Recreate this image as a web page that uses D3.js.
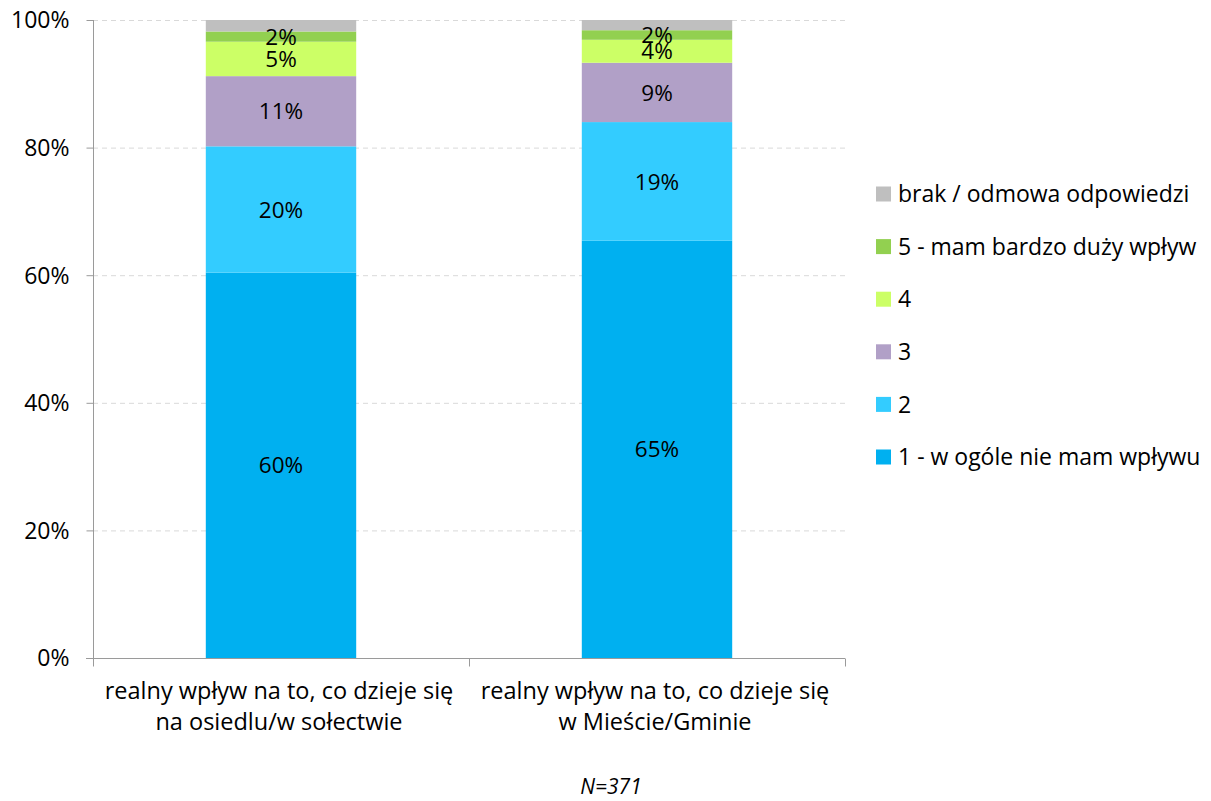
<!DOCTYPE html>
<html><head><meta charset="utf-8">
<script src="https://cdn.jsdelivr.net/npm/d3@7"></script>
<style>body{margin:0;background:#fff}svg{display:block}</style>
</head><body>
<svg id="chart" width="1211" height="801"></svg>
<script>
const categories = [
  ["realny wpływ na to, co dzieje się", "na osiedlu/w sołectwie"],
  ["realny wpływ na to, co dzieje się", "w Mieście/Gminie"]
];
const seriesNames = ["1 - w ogóle nie mam wpływu", "2", "3", "4", "5 - mam bardzo duży wpływ", "brak / odmowa odpowiedzi"];
const seriesColors = ["#00B0F0", "#33CCFF", "#B1A0C7", "#CCFF66", "#92D050", "#BFBFBF"];
const labelled = [true, true, true, true, true, false];
const s1 = [60.4, 65.4];
const s2 = [19.8, 18.6];
const s3 = [11.0, 9.3];
const s4 = [5.4, 3.6];
const s5 = [1.6, 1.5];
const sBrak = [1.8, 1.6];
const yTicks = [0, 20, 40, 60, 80, 100];
const note = "N=371";

(function(){
const font = "'Open Sans', sans-serif";
const svg = d3.select("#chart");
const pl = 93, pr = 845, pt = 20, pb = 658;

const seriesVals = [s1, s2, s3, s4, s5, sBrak];
const rows = categories.map((c, i) => {
  const r = {cat: i};
  seriesNames.forEach((n, k) => r[n] = seriesVals[k][i]);
  return r;
});
const stacked = d3.stack().keys(seriesNames)(rows);

const x = d3.scaleBand().domain(categories.map((c, i) => i)).range([pl, pr]).paddingInner(0.6).paddingOuter(0.3);
const xOuter = d3.scaleBand().domain(categories.map((c, i) => i)).range([pl, pr]);
const y = d3.scaleLinear().domain([0, 100]).range([pb, pt]);

// grid
svg.append("g").selectAll("line").data(yTicks.filter(t => t > 0)).join("line")
  .attr("x1", pl).attr("x2", pr)
  .attr("y1", d => y(d) + 0.5).attr("y2", d => y(d) + 0.5)
  .attr("stroke", "#d9d9d9").attr("stroke-dasharray", "5,4");

// bars
const g = svg.append("g");
stacked.forEach((layer, k) => {
  g.selectAll(null).data(layer).join("rect")
    .attr("x", (d, i) => x(i))
    .attr("width", x.bandwidth())
    .attr("y", d => y(d[1]))
    .attr("height", d => y(d[0]) - y(d[1]))
    .attr("fill", seriesColors[k]);
});
// labels
stacked.forEach((layer, k) => {
  if (!labelled[k]) return;
  g.selectAll(null).data(layer).join("text")
    .attr("x", (d, i) => x(i) + x.bandwidth() / 2)
    .attr("y", d => (y(d[0]) + y(d[1])) / 2)
    .attr("dy", "0.36em")
    .attr("text-anchor", "middle")
    .attr("font-family", font).attr("font-size", 22.5).attr("fill", "#000")
    .text(d => Math.round(d[1] - d[0]) + "%");
});

// y axis
const yAxis = d3.axisLeft(y).tickValues(yTicks).tickFormat(d => d + "%").tickSize(7).tickPadding(17);
const ya = svg.append("g").attr("transform", `translate(${pl + 0.5},0)`).call(yAxis);
ya.select(".domain").attr("stroke", "#9a9a9a").attr("d", `M0,${pt}V${pb}`);
ya.selectAll(".tick line").attr("stroke", "#9a9a9a");
ya.selectAll(".tick text").attr("font-family", font).attr("font-size", 23).attr("fill", "#000").attr("dy", "0.34em");

// x axis
const xa = svg.append("g").attr("transform", `translate(0,${pb + 0.5})`);
xa.append("line").attr("x1", pl - 7).attr("x2", pr).attr("y1", 0).attr("y2", 0).attr("stroke", "#9a9a9a");
const bounds = [pl, ...categories.map((c, i) => xOuter(i) + xOuter.bandwidth())];
xa.selectAll(null).data(bounds).join("line")
  .attr("x1", d => Math.round(d) + 0.5).attr("x2", d => Math.round(d) + 0.5)
  .attr("y1", 0).attr("y2", 8).attr("stroke", "#9a9a9a");
categories.forEach((lines, i) => {
  const t = svg.append("text")
    .attr("x", xOuter(i) + xOuter.bandwidth() / 2 - 2)
    .attr("text-anchor", "middle")
    .attr("font-family", font).attr("font-size", 23.5).attr("fill", "#000");
  lines.forEach((ln, j) => t.append("tspan")
    .attr("x", xOuter(i) + xOuter.bandwidth() / 2 - 2)
    .attr("y", 699 + j * 30.5).text(ln));
});

// legend
const legendOrder = seriesNames.map((n, k) => k).reverse();
const lg = svg.append("g");
legendOrder.forEach((k, r) => {
  const cy = 194 + r * 52.6;
  lg.append("rect").attr("x", 876).attr("y", cy - 7.5).attr("width", 15).attr("height", 15).attr("fill", seriesColors[k]);
  lg.append("text").attr("x", 898).attr("y", cy).attr("dy", "0.36em")
    .attr("font-family", font).attr("font-size", 23).attr("fill", "#000").text(seriesNames[k]);
});

// note
svg.append("text").attr("x", 611).attr("y", 794).attr("text-anchor", "middle")
  .attr("font-family", font).attr("font-size", 21).attr("font-style", "italic").attr("fill", "#000").text(note);
})();
</script>
</body></html>
